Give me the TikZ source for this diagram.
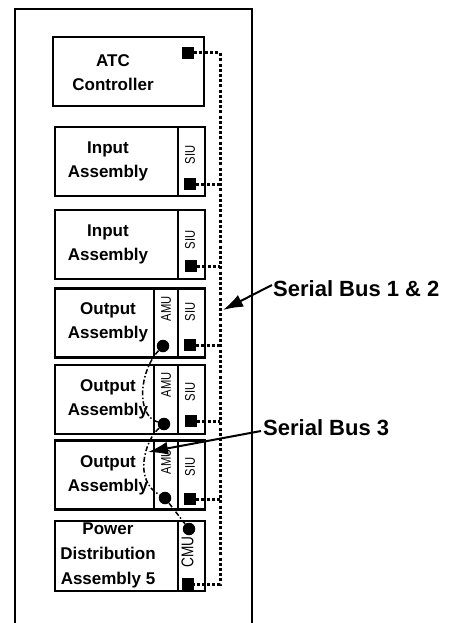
\documentclass[tikz,border=0pt]{standalone}
\usepackage{fontspec}
\setmainfont{Liberation Sans}
\newfontfamily\tagfont{Liberation Sans}[FakeStretch=0.8]
\usetikzlibrary{arrows.meta,calc}
\tikzset{
  frm/.style={draw=black, line width=2pt},
  unit/.style={rectangle, draw=black, line width=2.4pt, minimum width=150pt,
               minimum height=69pt, inner sep=0pt},
  sep/.style={draw=black, line width=2.4pt},
  txt/.style={font=\bfseries\fontsize{17}{24}\selectfont, align=center, inner sep=0pt},
  tag/.style={font=\tagfont\fontsize{14}{14}\selectfont, rotate=90, inner sep=0pt},
  sq/.style={rectangle, fill=black, minimum size=12pt, inner sep=0pt},
  dt/.style={circle, fill=black, minimum size=12.5pt, inner sep=0pt},
  bus/.style={draw=black, line width=3pt, dash pattern=on 3pt off 2.2pt},
  busc/.style={draw=black, line width=1.5pt, dash pattern=on 5pt off 2.2pt on 1.5pt off 2.2pt},
  arr/.style={-{Latex[length=20pt,width=13pt]}, draw=black, line width=2pt},
  call/.style={font=\bfseries\fontsize{22}{22}\selectfont, inner sep=0pt, anchor=west}
}

\begin{document}
\begin{tikzpicture}[x=1pt, y=-1pt]
\useasboundingbox (0,0) rectangle (452,623);

% cabinet
\draw[frm] (15,623) -- (15,9) -- (252,9) -- (252,623);

% assemblies
\node[unit, minimum width=151pt] (atc) at (128.5,71.5) {};
\node[unit] (inA)  at (130,161.5) {};
\node[unit] (inB)  at (130,244.5) {};
\node[unit] (outA) at (130,323) {};
\node[unit] (outB) at (130,399.5) {};
\node[unit] (outC) at (130,475) {};
\node[unit, minimum height=70pt] (pwr) at (130,556) {};

% SIU / AMU / CMU columns
\draw[sep] (178,127) -- (178,196);
\draw[sep] (178,210) -- (178,279);
\draw[sep] (154,288.5) -- (154,357.5);
\draw[sep] (178,288.5) -- (178,357.5);
\draw[sep] (154,365) -- (154,434);
\draw[sep] (178,365) -- (178,434);
\draw[sep] (154,440.5) -- (154,509.5);
\draw[sep] (178,440.5) -- (178,509.5);
\draw[sep] (178,521) -- (178,591);

\node[txt] (tAtc)  at (113,72.5) {ATC\\Controller};
\node[txt] (tInA)  at (108,161) {Input\\Assembly};
\node[txt] (tInB)  at (108,244) {Input\\Assembly};
\node[txt] (tOutA) at (108,322) {Output\\Assembly};
\node[txt] (tOutB) at (108,399) {Output\\Assembly};
\node[txt] (tOutC) at (108,475) {Output\\Assembly};
\node[txt, font=\bfseries\fontsize{17}{25}\selectfont] (tPwr) at (108,555) {Power\\Distribution\\Assembly 5};

\node[tag] (siuA) at (190,155) {SIU};
\node[tag] (siuB) at (190,240) {SIU};
\node[tag] (siuC) at (190,312) {SIU};
\node[tag] (amuA) at (166,309) {AMU};
\node[tag] (siuD) at (190,392) {SIU};
\node[tag] (amuB) at (166,385) {AMU};
\node[tag] (siuE) at (190,467) {SIU};
\node[tag] (amuC) at (166,462) {AMU};
\node[tag, font=\tagfont\fontsize{17}{17}\selectfont] (cmu) at (187.5,552) {CMU};

% serial bus 1 & 2 ports
\node[sq] (pAtc)  at (188,53) {};
\node[sq] (pInA)  at (190,184) {};
\node[sq] (pInB)  at (191,266) {};
\node[sq] (pOutA) at (190,345) {};
\node[sq] (pOutB) at (191,421) {};
\node[sq] (pOutC) at (190,499) {};
\node[sq] (pPwr)  at (188,584) {};

\coordinate (bTop) at (220,53);
\coordinate (bBot) at (220,584);
\draw[bus] (pAtc.east) -- (bTop) -- (bBot) -- (pPwr.east);
\foreach \p in {pInA,pInB,pOutA,pOutB,pOutC}
  \draw[bus] (\p.east) -- (\p.east -| bTop);

% serial bus 3 ports
\node[dt] (aOutA) at (163,346) {};
\node[dt] (aOutB) at (164,424) {};
\node[dt] (aOutC) at (165,498) {};
\node[dt] (aPwr)  at (189,529) {};

\draw[busc] (aOutA) .. controls (140,370) and (135,415) .. (aOutB);
\draw[busc] (aOutB) .. controls (145,440) and (133,480) .. (aOutC);
\draw[busc] (aOutC) -- (aPwr);

% callouts
\node[call] (lblB12) at (273,289) {Serial Bus 1 \& 2};
\node[call] (lblB3)  at (263,428) {Serial Bus 3};
\coordinate (tipB12) at (223,310);
\coordinate (tipB3)  at (148,452);
\draw[arr] ($(lblB12.west)+(-1,-4)$) -- (tipB12);
\draw[arr] ($(lblB3.west)+(-2,3)$) -- (tipB3);

\end{tikzpicture}
\end{document}
